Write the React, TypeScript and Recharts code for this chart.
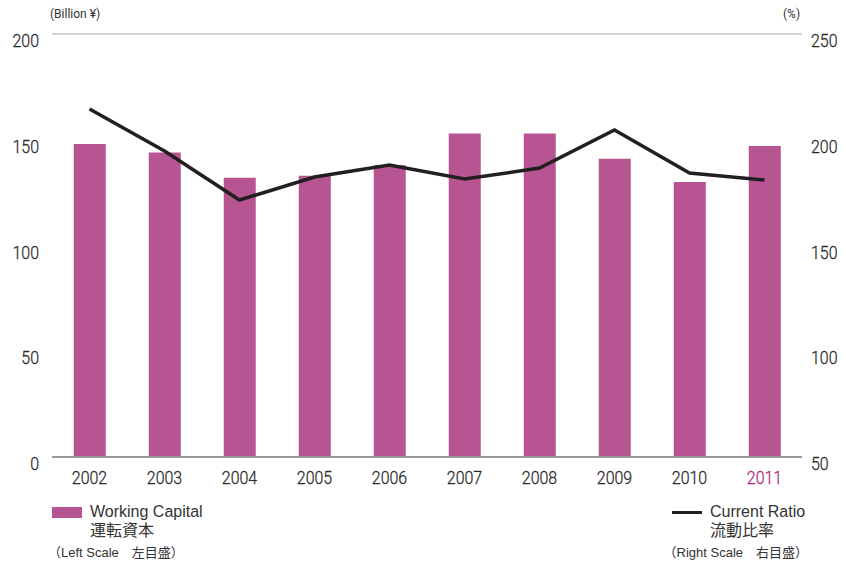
import { Bar, CartesianGrid, ComposedChart, Line, XAxis, YAxis } from 'recharts'

const years = ['2002', '2003', '2004', '2005', '2006', '2007', '2008', '2009', '2010', '2011']
const workingCapital = [148, 144, 132, 133, 138, 153, 153, 141, 130, 147]
const currentRatio = [214.5, 194.7, 171.5, 182.4, 188, 181.4, 186.6, 204.6, 184.3, 181]
const leftTicks = [0, 50, 100, 150, 200]
const rightTicks = [50, 100, 150, 200, 250]

const data = years.map((year, i) => ({
  year,
  capital: workingCapital[i],
  ratio: currentRatio[i],
}))

const BAR_COLOR = '#b65591'
const LINE_COLOR = '#231f20'
const TICK_FONT = 'Roboto, "Liberation Sans", sans-serif'
const TEXT_FONT = '"Liberation Sans", "Noto Sans CJK JP", sans-serif'
const SQUEEZE = 0.84

// condensed tick text: squeeze horizontally around the anchor point
const NarrowText = ({ x, y, anchor, color, children }: any) => (
  <text
    x={0}
    y={0}
    textAnchor={anchor}
    fontFamily={TICK_FONT}
    fontWeight={300}
    fontSize={19}
    fill={color}
    stroke={color}
    strokeWidth={0.3}
    transform={`translate(${x},${y}) scale(${SQUEEZE},1)`}
  >
    {children}
  </text>
)

const YearTick = ({ x, y, payload }: any) => (
  <NarrowText x={x} y={y + 19} anchor="middle" color={payload.value === '2011' ? '#b01f7c' : '#2a2a2a'}>
    {payload.value}
  </NarrowText>
)

const LeftTick = ({ x, y, payload }: any) => (
  <NarrowText x={x} y={y + 13} anchor="end" color="#2a2a2a">
    {payload.value}
  </NarrowText>
)

const RightTick = ({ x, y, payload }: any) => (
  <NarrowText x={x} y={y + 13} anchor="start" color="#2a2a2a">
    {payload.value}
  </NarrowText>
)

export default function App() {
  return (
    <div style={{ position: 'absolute', left: 0, top: 0, width: 846, height: 563, background: '#fff' }}>
      <div style={{ position: 'absolute', left: 50, top: 7, fontFamily: TICK_FONT, fontSize: 12, color: '#333' }}>
        (Billion ¥)
      </div>
      <div style={{ position: 'absolute', left: 783, top: 7, fontFamily: TICK_FONT, fontSize: 12, color: '#333' }}>
        (%)
      </div>
      <ComposedChart
        width={846}
        height={490}
        data={data}
        barCategoryGap="29%"
        margin={{ top: 34, right: 0, bottom: 0, left: 0 }}
      >
        <CartesianGrid vertical={false} stroke="#d4d4d4" strokeWidth={2} />
        <XAxis
          dataKey="year"
          height={33}
          tick={<YearTick />}
          tickLine={false}
          axisLine={{ stroke: '#9a9a9a', strokeWidth: 2 }}
        />
        <YAxis
          yAxisId="left"
          domain={[0, 200]}
          ticks={leftTicks}
          width={52}
          axisLine={false}
          tickLine={false}
          tick={<LeftTick />}
          tickMargin={7}
        />
        <YAxis
          yAxisId="right"
          orientation="right"
          domain={[50, 250]}
          ticks={rightTicks}
          width={44}
          axisLine={false}
          tickLine={false}
          tick={<RightTick />}
          tickMargin={3}
        />
        <Bar yAxisId="left" dataKey="capital" fill={BAR_COLOR} isAnimationActive={false} />
        <Line
          yAxisId="right"
          dataKey="ratio"
          type="linear"
          stroke={LINE_COLOR}
          strokeWidth={3.5}
          dot={false}
          isAnimationActive={false}
        />
      </ComposedChart>
      <div style={{ position: 'absolute', left: 52, top: 507, width: 30, height: 11, background: BAR_COLOR }} />
      <div style={{ position: 'absolute', left: 90, top: 502, fontFamily: TEXT_FONT, fontSize: 16, lineHeight: '19px', color: '#333' }}>
        Working Capital
        <br />
        運転資本
      </div>
      <div style={{ position: 'absolute', left: 48, top: 542, fontFamily: TEXT_FONT, fontSize: 13, color: '#333' }}>
        （Left Scale　左目盛）
      </div>
      <div style={{ position: 'absolute', left: 672, top: 511, width: 30, height: 3, background: LINE_COLOR }} />
      <div style={{ position: 'absolute', left: 710, top: 502, fontFamily: TEXT_FONT, fontSize: 16, lineHeight: '19px', color: '#333' }}>
        Current Ratio
        <br />
        流動比率
      </div>
      <div style={{ position: 'absolute', right: 38, top: 542, fontFamily: TEXT_FONT, fontSize: 13, color: '#333' }}>
        （Right Scale　右目盛）
      </div>
    </div>
  )
}
